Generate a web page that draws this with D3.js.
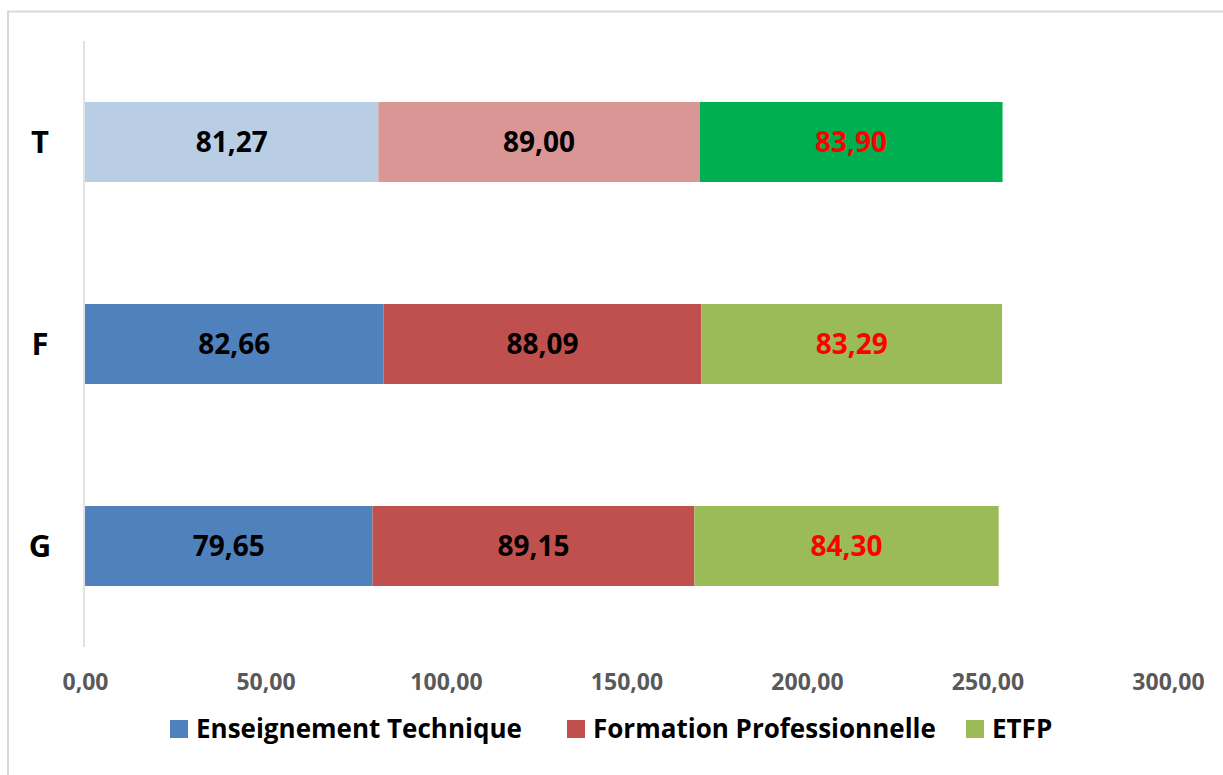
<!DOCTYPE html>
<html>
<head>
<meta charset="utf-8">
<script src="https://cdn.jsdelivr.net/npm/d3@7"></script>
<style>
  body { margin: 0; background: #fff; }
  text { font-family: "Open Sans", "Noto Sans", sans-serif; font-weight: 700; }
</style>
</head>
<body>
<svg id="chart"></svg>
<script>
const width = 1223;
const height = 775;

// categories (top to bottom) and series
const categories = ["T", "F", "G"];
const seriesNames = ["Enseignement Technique", "Formation Professionnelle", "ETFP"];
const enseignement = [81.27, 82.66, 79.65];
const formation = [89.00, 88.09, 89.15];
const etfp = [83.90, 83.29, 84.30];
const xTicks = [0, 50, 100, 150, 200, 250, 300];

const seriesColors = ["#4F81BD", "#C0504D", "#9BBB59"];
// the "T" row is drawn with its own colours
const tColors = ["#B9CDE5", "#D99694", "#00B050"];
const labelColors = ["#000000", "#000000", "#FF0000"];

const svg = d3.select("svg#chart")
  .attr("width", width)
  .attr("height", height);

// chart frame
svg.append("rect")
  .attr("x", 8).attr("y", 11.5)
  .attr("width", width + 10).attr("height", height)
  .attr("fill", "none")
  .attr("stroke", "#d9d9d9")
  .attr("stroke-width", 2);

const x = d3.scaleLinear()
  .domain([0, 300])
  .range([85, 1168]);

const y = d3.scaleBand()
  .domain(categories)
  .range([41, 647])
  .paddingInner(0.604)
  .paddingOuter(0.302);

// build rows for the stack
const rows = categories.map((c, i) => ({
  cat: c,
  [seriesNames[0]]: enseignement[i],
  [seriesNames[1]]: formation[i],
  [seriesNames[2]]: etfp[i]
}));
const stacked = d3.stack().keys(seriesNames)(rows);

const fmt = v => d3.format(".2f")(v).replace(".", ",");

const layers = svg.append("g").attr("id", "bars")
  .selectAll("g")
  .data(stacked)
  .join("g");

layers.selectAll("rect")
  .data((d, si) => d.map(p => ({ p: p, si: si })))
  .join("rect")
    .attr("x", d => x(d.p[0]))
    .attr("y", d => y(d.p.data.cat))
    .attr("width", d => x(d.p[1]) - x(d.p[0]))
    .attr("height", y.bandwidth())
    .attr("fill", d => d.p.data.cat === "T" ? tColors[d.si] : seriesColors[d.si]);

layers.selectAll("text")
  .data((d, si) => d.map(p => ({ p: p, si: si })))
  .join("text")
    .attr("x", d => (x(d.p[0]) + x(d.p[1])) / 2)
    .attr("y", d => y(d.p.data.cat) + y.bandwidth() / 2)
    .attr("dy", "0.36em")
    .attr("text-anchor", "middle")
    .style("font-size", "28px")
    .attr("fill", d => labelColors[d.si])
    .text(d => fmt(d.p[1] - d.p[0]));

// vertical axis line + category labels
svg.append("line")
  .attr("x1", 84).attr("x2", 84)
  .attr("y1", 41).attr("y2", 647)
  .attr("stroke", "#d9d9d9")
  .attr("stroke-width", 1.5);

svg.append("g").attr("id", "yLabels")
  .selectAll("text")
  .data(categories)
  .join("text")
    .attr("x", 40)
    .attr("y", d => y(d) + y.bandwidth() / 2)
    .attr("dy", "0.36em")
    .attr("text-anchor", "middle")
    .style("font-size", "31px")
    .attr("fill", "#000")
    .text(d => d);

// x axis tick labels
const xAxis = svg.append("g")
  .attr("id", "xAxis")
  .attr("transform", "translate(0,671)")
  .call(d3.axisBottom(x).tickValues(xTicks).tickFormat(fmt).tickSize(0));
xAxis.select(".domain").remove();
xAxis.selectAll("text")
  .style("font-family", "'Open Sans', sans-serif")
  .style("font-weight", 700)
  .style("font-size", "23px")
  .attr("fill", "#595959");

// legend
const legendX = [170, 567, 966];
const legend = svg.append("g").attr("id", "legend")
  .selectAll("g")
  .data(seriesNames)
  .join("g")
    .attr("transform", (d, i) => "translate(" + legendX[i] + ",720)");
legend.append("rect")
  .attr("width", 18).attr("height", 18)
  .attr("fill", (d, i) => seriesColors[i]);
legend.append("text")
  .attr("x", 26).attr("y", 9)
  .attr("dy", "0.36em")
  .style("font-size", "26px")
  .attr("fill", "#000")
  .text(d => d);
</script>
</body>
</html>
